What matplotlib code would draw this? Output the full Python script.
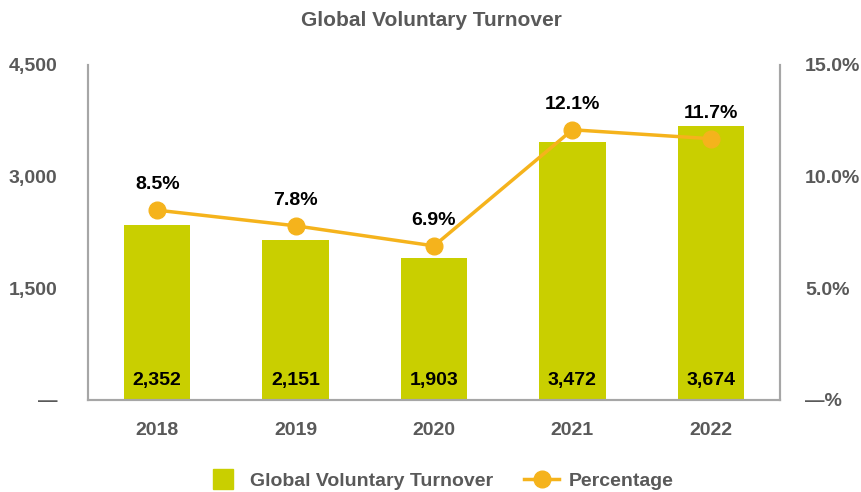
import matplotlib.pyplot as plt
from matplotlib.lines import Line2D
from matplotlib.ticker import FuncFormatter

plt.rcParams["font.family"] = ["Liberation Sans", "DejaVu Sans"]

years = ["2018", "2019", "2020", "2021", "2022"]
turnover = [2352, 2151, 1903, 3472, 3674]
percentage = [8.5, 7.8, 6.9, 12.1, 11.7]

bar_color = "#C9CF00"
line_color = "#F5B31C"
text_gray = "#595959"
spine_gray = "#A6A6A6"

fig = plt.figure(figsize=(8.62, 4.92), dpi=100)
ax = fig.add_axes([88 / 862, 92 / 492, 692 / 862, 335 / 492])
ax2 = ax.twinx()

x = range(len(years))
ax.bar(x, turnover, width=0.48, color=bar_color, zorder=2)
for xi, val in zip(x, turnover):
    ax.text(xi, 150, f"{val:,}", ha="center", va="bottom", fontsize=14,
            fontweight="bold", color="black")

ax2.plot(x, percentage, color=line_color, lw=2.5, marker="o", markersize=12, zorder=3)
for xi, val in zip(x, percentage):
    ax2.annotate(f"{val}%", (xi, val), xytext=(0, 12), textcoords="offset points",
                 ha="center", va="bottom", fontsize=14, fontweight="bold", color="black")

ax.set_xlim(-0.5, 4.5)
ax.set_ylim(0, 4500)
ax.set_yticks([0, 1500, 3000, 4500])
ax.yaxis.set_major_formatter(FuncFormatter(lambda v, _: "—" if v == 0 else f"{v:,.0f}"))
ax2.set_ylim(0, 15)
ax2.set_yticks([0, 5, 10, 15])
ax2.yaxis.set_major_formatter(FuncFormatter(lambda v, _: "—%" if v == 0 else f"{v:.1f}%"))

ax.set_xticks(list(x))
ax.set_xticklabels(years)

for a in (ax, ax2):
    a.spines["top"].set_visible(False)
    for s in ("left", "right", "bottom"):
        a.spines[s].set_color(spine_gray)
        a.spines[s].set_linewidth(1.5)
    a.tick_params(length=0, labelsize=14, labelcolor=text_gray)
    for lbl in a.get_yticklabels() + a.get_xticklabels():
        lbl.set_fontweight("bold")

ax.tick_params(axis="y", pad=22)
ax.tick_params(axis="x", pad=16)
ax2.tick_params(axis="y", pad=18)

fig.text(0.5, 0.958, "Global Voluntary Turnover", ha="center", va="center",
         fontsize=15, fontweight="bold", color=text_gray)

handles = [
    Line2D([], [], marker="s", color="none", markerfacecolor=bar_color,
           markeredgecolor=bar_color, markersize=15, label="Global Voluntary Turnover"),
    Line2D([], [], marker="o", color=line_color, lw=2.5, markersize=12, label="Percentage"),
]
leg = fig.legend(handles=handles, loc="center", bbox_to_anchor=(0.51, 0.022), ncol=2,
                 frameon=False, fontsize=14, handlelength=1.8, columnspacing=1.6,
                 handletextpad=0.5)
for t in leg.get_texts():
    t.set_fontweight("bold")
    t.set_color(text_gray)

fig.savefig("out.png", dpi=100)
